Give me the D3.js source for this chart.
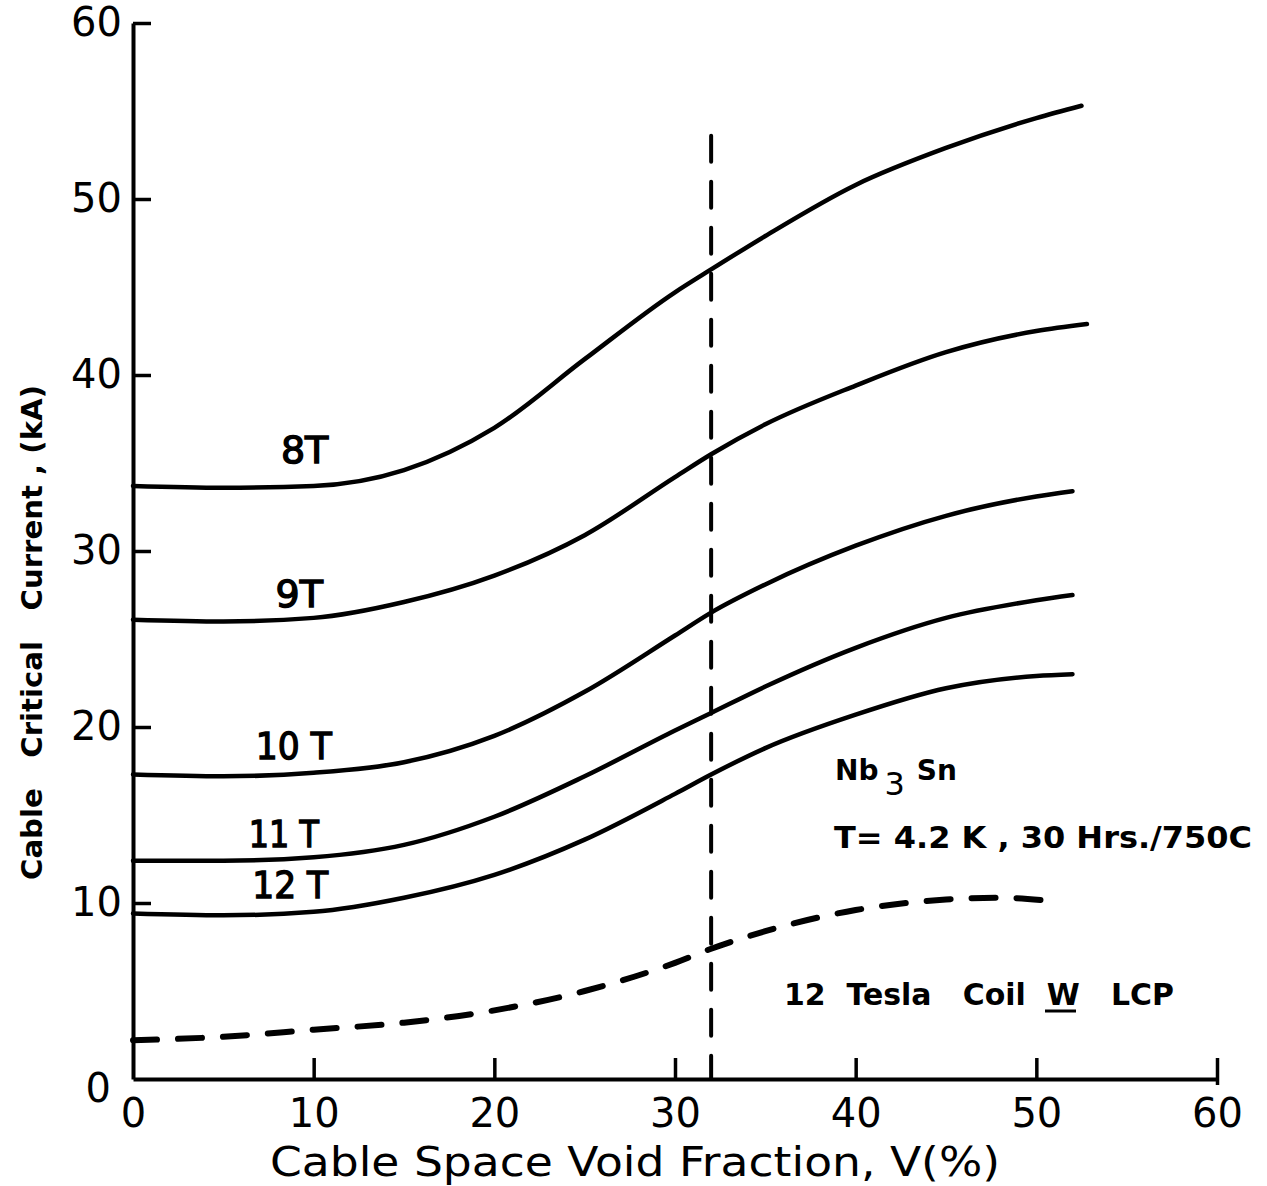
<!DOCTYPE html>
<html>
<head>
<meta charset="utf-8">
<script src="https://cdn.jsdelivr.net/npm/d3@7"></script>
<style>
  html, body { margin: 0; padding: 0; background: #fff; }
  svg { display: block; }
  text { font-family: "DejaVu Sans", sans-serif; fill: #000; }
</style>
</head>
<body>
<script>
// ---------------- data ----------------
const xTicks = [0, 10, 20, 30, 40, 50, 60];
const yTicks = [0, 10, 20, 30, 40, 50, 60];

const x8T  = [0, 5, 10, 15, 20, 25, 30, 32, 35, 40, 45, 50, 52.5];
const y8T  = [33.7, 33.6, 33.7, 34.6, 37.0, 40.9, 44.7, 46.0, 47.9, 50.8, 52.9, 54.6, 55.3];

const x9T  = [0, 5, 10, 15, 20, 25, 30, 32, 35, 40, 45, 50, 52.8];
const y9T  = [26.1, 26.0, 26.2, 27.1, 28.6, 30.9, 34.2, 35.5, 37.2, 39.4, 41.3, 42.5, 42.9];

const x10T = [0, 5, 10, 15, 20, 25, 30, 32, 35, 40, 45, 50, 52];
const y10T = [17.3, 17.2, 17.4, 18.0, 19.5, 22.0, 25.2, 26.5, 28.1, 30.3, 32.0, 33.1, 33.4];

const x11T = [0, 5, 10, 15, 20, 25, 30, 32, 35, 40, 45, 50, 52];
const y11T = [12.4, 12.4, 12.6, 13.3, 14.9, 17.2, 19.8, 20.8, 22.3, 24.5, 26.2, 27.2, 27.5];

const x12T = [0, 5, 10, 15, 20, 25, 30, 32, 35, 40, 45, 50, 52];
const y12T = [9.4, 9.3, 9.5, 10.3, 11.6, 13.6, 16.2, 17.3, 18.8, 20.7, 22.2, 22.9, 23.0];

const xCoil = [0, 5, 10, 15, 20, 25, 30, 32, 35, 40, 45, 48, 51];
const yCoil = [2.2, 2.4, 2.8, 3.2, 3.9, 5.0, 6.6, 7.4, 8.4, 9.6, 10.2, 10.3, 10.1];

const seriesLabels = ["8T", "9T", "10 T", "11 T", "12 T"];
const labelPos = [[9.5, 35.0], [9.2, 26.8], [8.9, 18.2], [8.35, 13.2], [8.7, 10.3]];

const vLineX = 32;
const vLineTop = 53.6;

// ---------------- layout ----------------
const W = 1267, H = 1186;
const svg = d3.select("body").append("svg").attr("width", W).attr("height", H);

const x = d3.scaleLinear().domain([0, 60]).range([133, 1217]);
const y = d3.scaleLinear().domain([0, 60]).range([1079, 23]);

const labelWidths = [null, null, 76, 70, 76];

// axes
const xAxis = d3.axisBottom(x).tickValues(xTicks).tickSize(-21).tickSizeOuter(0).tickPadding(20)
  .tickFormat(d3.format("d"));
const yAxis = d3.axisLeft(y).tickValues(yTicks).tickSize(-18).tickSizeOuter(0).tickPadding(11)
  .tickFormat(d3.format("d"));

const gx = svg.append("g").attr("transform", `translate(0,${y(0)})`).call(xAxis);
const gy = svg.append("g").attr("transform", `translate(${x(0)},0)`).call(yAxis);

[gx, gy].forEach(g => {
  g.select(".domain").attr("stroke", "#000").attr("stroke-width", 4);
  g.selectAll(".tick line").attr("stroke", "#000").attr("stroke-width", 3.5);
  g.selectAll(".tick text").attr("font-size", 40).attr("font-family", "DejaVu Sans, sans-serif").attr("fill", "#000");
});
gy.selectAll(".tick").filter(d => d === 0).select("line").remove();
gx.selectAll(".tick").filter(d => d === 0).select("line").remove();
gy.selectAll(".tick").filter(d => d === 0).select("text").attr("dy", "0.55em").attr("x", -22);
gx.selectAll(".tick").filter(d => d === 60).select("line").attr("y2", 6).attr("y1", -21);

// curves
const line = d3.line().x(d => x(d[0])).y(d => y(d[1])).curve(d3.curveMonotoneX);
const solid = [[x8T, y8T], [x9T, y9T], [x10T, y10T], [x11T, y11T], [x12T, y12T]];
solid.forEach(([xs, ys]) => {
  svg.append("path")
    .datum(xs.map((v, i) => [v, ys[i]]))
    .attr("d", line)
    .attr("fill", "none").attr("stroke", "#000").attr("stroke-width", 4.5)
    .attr("stroke-linecap", "round");
});

svg.append("path")
  .datum(xCoil.map((v, i) => [v, yCoil[i]]))
  .attr("d", line)
  .attr("fill", "none").attr("stroke", "#000").attr("stroke-width", 6)
  .attr("stroke-linecap", "round").attr("stroke-dasharray", "24 21");

// vertical dashed line
svg.append("line")
  .attr("x1", x(vLineX)).attr("x2", x(vLineX))
  .attr("y1", y(vLineTop)).attr("y2", y(0))
  .attr("stroke", "#000").attr("stroke-width", 4)
  .attr("stroke-dasharray", "26 20").attr("stroke-linecap", "round");

// curve labels
seriesLabels.forEach((t, i) => {
  const tx = svg.append("text")
    .attr("x", x(labelPos[i][0])).attr("y", y(labelPos[i][1]))
    .attr("text-anchor", "middle")
    .attr("font-size", 38)
    .attr("stroke", "#000").attr("stroke-width", 1.4)
    .text(t);
  if (labelWidths[i]) {
    tx.attr("text-anchor", null)
      .attr("x", x(labelPos[i][0]) - labelWidths[i] / 2)
      .attr("textLength", labelWidths[i]).attr("lengthAdjust", "spacingAndGlyphs");
  }
});

// annotations
const nb = svg.append("text").attr("x", 835).attr("y", 780).attr("font-size", 28).attr("font-weight", "bold");
nb.append("tspan").text("Nb");
nb.append("tspan").attr("dx", 6).attr("dy", 15).attr("font-size", 32).attr("font-weight", "normal").text("3");
nb.append("tspan").attr("dx", 12).attr("dy", -15).text("Sn");

svg.append("text").attr("x", 834).attr("y", 848).attr("font-size", 31).attr("font-weight", "bold")
  .attr("textLength", 418).attr("lengthAdjust", "spacingAndGlyphs")
  .text("T= 4.2 K , 30  Hrs./750C");

svg.append("text").attr("x", 784).attr("y", 1005).attr("font-size", 30).attr("font-weight", "bold")
  .attr("textLength", 390).attr("lengthAdjust", "spacingAndGlyphs")
  .attr("xml:space", "preserve")
  .text("12  Tesla   Coil  W   LCP");
svg.append("line").attr("x1", 1045).attr("x2", 1076).attr("y1", 1011).attr("y2", 1011)
  .attr("stroke", "#000").attr("stroke-width", 3);

// axis titles
svg.append("text").attr("x", 270).attr("y", 1176).attr("font-size", 40)
  .attr("textLength", 730).attr("lengthAdjust", "spacingAndGlyphs")
  .text("Cable Space Void Fraction, V(%)");

svg.append("text")
  .attr("transform", "translate(42,880) rotate(-90)")
  .attr("font-size", 28).attr("font-weight", "bold")
  .attr("textLength", 495).attr("lengthAdjust", "spacingAndGlyphs")
  .attr("xml:space", "preserve")
  .text("Cable   Critical   Current , (kA)");
</script>
</body>
</html>
